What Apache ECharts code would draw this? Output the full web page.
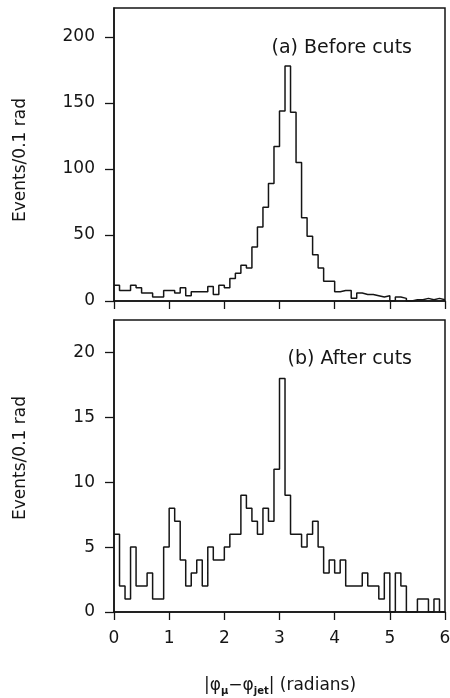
<!DOCTYPE html>
<html><head><meta charset="utf-8">
<script src="https://cdn.jsdelivr.net/npm/echarts@6/dist/echarts.min.js"></script>
<style>html,body{margin:0;padding:0;background:#fff}#c{width:450px;height:698px}</style>
</head><body><div id="c"></div>
<script>
// ---- data ----
const binWidth = 0.1;            // rad per bin
const xTicks = [0, 1, 2, 3, 4, 5, 6];
const topYTicks = [0, 50, 100, 150, 200];
const bottomYTicks = [0, 5, 10, 15, 20];
// events per 0.1 rad bin, bins from 0.0 to 6.0
const beforeCuts = [12, 8, 8, 12, 10, 6, 6, 3, 3, 8,
                    8, 6, 10, 4, 7, 7, 7, 11, 5, 12,
                    10, 17, 21, 27, 25, 41, 56, 71, 89, 117,
                    144, 178, 143, 105, 63, 49, 35, 25, 15, 15,
                    7, 8, 8, 2, 6, 5, 5, 4, 3, 4,
                    0, 3, 2, 0, 1, 1, 2, 1, 2, 1];
const afterCuts = [6, 2, 1, 5, 2, 2, 3, 1, 1, 5,
                   8, 7, 4, 2, 3, 4, 2, 5, 4, 4,
                   5, 6, 6, 9, 8, 7, 6, 8, 7, 11,
                   18, 9, 6, 6, 5, 6, 7, 5, 3, 4,
                   3, 4, 2, 2, 2, 3, 2, 2, 1, 3,
                   0, 3, 2, 0, 0, 1, 1, 0, 1, 0];
const topLabel = '(a) Before cuts';
const bottomLabel = '(b) After cuts';
const yTitle = 'Events/0.1 rad';

// ---- build step data (bin left edges + closing edge) ----
function steps(vals) {
  const d = vals.map((v, i) => [+(i * binWidth).toFixed(2), v]);
  d.push([+(vals.length * binWidth).toFixed(2), vals[vals.length - 1]]);
  return d;
}

const font = 'DejaVu Sans';
const ink = '#151515';
const axisLine = { show: true, onZero: false, lineStyle: { color: ink, width: 1.5 } };
const tickStyle = { color: ink, width: 1.3 };
const labelStyle = { fontFamily: font, fontSize: 17, color: ink };

const chart = echarts.init(document.getElementById('c'), null, { renderer: 'canvas' });
chart.setOption({
  animation: false,
  backgroundColor: '#fff',
  grid: [
    { left: 114, right: 5, top: 8, height: 293, show: true, borderColor: ink, borderWidth: 1.5,
      containLabel: false, outerBoundsMode: 'none' },
    { left: 114, right: 5, top: 320, height: 292, show: true, borderColor: ink, borderWidth: 1.5,
      containLabel: false, outerBoundsMode: 'none' }
  ],
  xAxis: [
    { gridIndex: 0, type: 'value', min: 0, max: 6, interval: 1, axisLine,
      axisTick: { show: true, length: 8, lineStyle: tickStyle },
      axisLabel: { show: false }, splitLine: { show: false } },
    { gridIndex: 1, type: 'value', min: 0, max: 6, interval: 1, axisLine,
      axisTick: { show: true, length: 8, lineStyle: tickStyle },
      axisLabel: Object.assign({ show: true, margin: 18, customValues: xTicks }, labelStyle),
      splitLine: { show: false } }
  ],
  yAxis: [
    { gridIndex: 0, type: 'value', min: 0, max: 222, axisLine,
      axisTick: { show: true, length: 9, lineStyle: tickStyle, customValues: topYTicks },
      axisLabel: Object.assign({ show: true, margin: 19, customValues: topYTicks }, labelStyle),
      splitLine: { show: false } },
    { gridIndex: 1, type: 'value', min: 0, max: 22.5, axisLine,
      axisTick: { show: true, length: 9, lineStyle: tickStyle, customValues: bottomYTicks },
      axisLabel: Object.assign({ show: true, margin: 19, customValues: bottomYTicks }, labelStyle),
      splitLine: { show: false } }
  ],
  series: [
    { type: 'line', xAxisIndex: 0, yAxisIndex: 0, step: 'end', data: steps(beforeCuts),
      symbol: 'none', lineStyle: { color: ink, width: 1.5 } },
    { type: 'line', xAxisIndex: 1, yAxisIndex: 1, step: 'end', data: steps(afterCuts),
      symbol: 'none', lineStyle: { color: ink, width: 1.5 } }
  ],
  graphic: [
    { type: 'text', x: 412, y: 48, style: { text: topLabel, font: '19px "DejaVu Sans"', fill: ink, textAlign: 'right', textVerticalAlign: 'middle' } },
    { type: 'text', x: 412, y: 359, style: { text: bottomLabel, font: '19px "DejaVu Sans"', fill: ink, textAlign: 'right', textVerticalAlign: 'middle' } },
    { type: 'text', x: 21, y: 160, rotation: Math.PI / 2, style: { text: yTitle, font: '17px "DejaVu Sans"', fill: ink, textAlign: 'center', textVerticalAlign: 'middle' } },
    { type: 'text', x: 21, y: 458, rotation: Math.PI / 2, style: { text: yTitle, font: '17px "DejaVu Sans"', fill: ink, textAlign: 'center', textVerticalAlign: 'middle' } },
    { type: 'text', x: 280, y: 686, style: {
        text: '|φ{s|μ}−φ{s|jet}| (radians)',
        fontFamily: font, fontSize: 17, fill: ink, align: 'center', verticalAlign: 'middle',
        textAlign: 'center', textVerticalAlign: 'middle', lineHeight: 20,
        rich: { s: { fontFamily: font, fontSize: 10, fontWeight: 'bold', fill: ink, verticalAlign: 'bottom', lineHeight: 12 } }
      } }
  ]
});
</script></body></html>
